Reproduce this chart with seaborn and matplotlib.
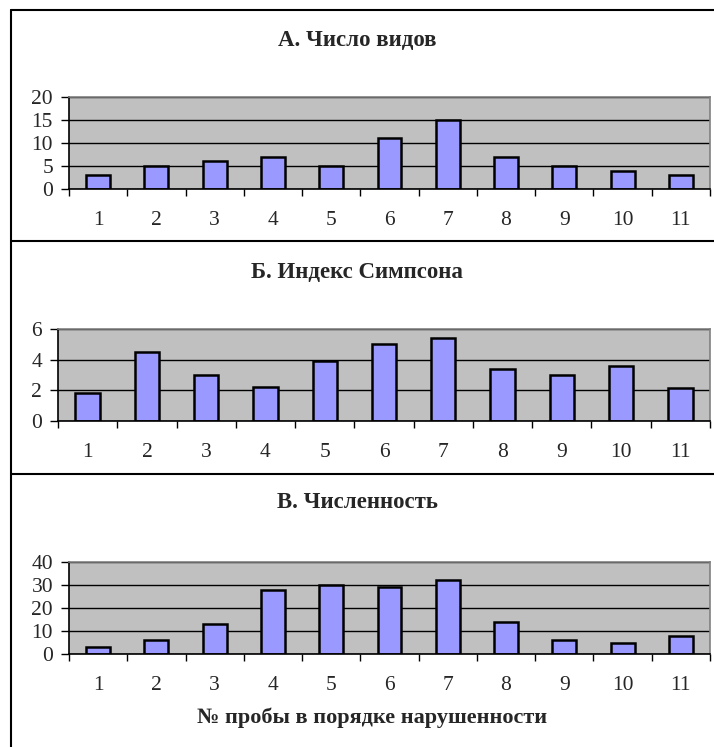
import numpy as np
import pandas as pd
import seaborn as sns
import matplotlib.pyplot as plt
from matplotlib.lines import Line2D
from matplotlib.ticker import FixedLocator

# номера проб и три показателя
samples = [str(i) for i in range(1, 12)]
species_count = [3, 5, 6, 7, 5, 11, 15, 7, 5, 4, 3]
simpson_index = [1.8, 4.5, 3.0, 2.2, 3.9, 5.05, 5.4, 3.4, 3.0, 3.6, 2.15]
abundance = [3, 6, 13, 28, 30, 29, 32, 14, 6, 5, 8]

titles = ["А. Число видов", "Б. Индекс Симпсона", "В. Численность"]
xlabel = "№ пробы в порядке нарушенности"

sns.set_style("white")
plt.rcParams['font.family'] = ['Liberation Serif', 'DejaVu Serif']

W, H = 714, 747
fig = plt.figure(figsize=(W / 100, H / 100), dpi=100)

def px_axes(x0, x1, y0, y1):
    return fig.add_axes([x0 / W, 1 - y1 / H, (x1 - x0) / W, (y1 - y0) / H])

panels = [
    (species_count, [0, 5, 10, 15, 20], 20, (69, 710, 97, 189), 40),
    (simpson_index, [0, 2, 4, 6], 6, (58, 710, 329, 421), 272),
    (abundance, [0, 10, 20, 30, 40], 40, (69, 710, 562, 654), 503),
]

for i, (vals, yt, ymax, box, ty) in enumerate(panels):
    ax = px_axes(*box)
    df = pd.DataFrame({"sample": samples, "value": vals})
    sns.barplot(data=df, x="sample", y="value", ax=ax, color="#9999FF",
                saturation=1, width=0.41, edgecolor="black", linewidth=1.8)
    ax.set_facecolor("#C0C0C0")
    ax.set_xlim(-0.5, len(samples) - 0.5)
    ax.set_ylim(0, ymax)
    ax.set_yticks(yt)
    ax.set_yticklabels([str(v) for v in yt])
    ax.yaxis.grid(True, color="black", linewidth=1)
    ax.set_axisbelow(True)
    ax.set_xlabel("")
    ax.set_ylabel("")
    ax.xaxis.set_minor_locator(FixedLocator(np.arange(-0.5, len(samples), 1.0)))
    ax.tick_params(axis="x", which="major", length=0, pad=16, labelsize=15.5)
    ax.tick_params(axis="x", which="minor", length=5, width=1, color="black",
                   direction="out", bottom=True)
    ax.tick_params(axis="y", which="major", length=5.5, width=1, color="black",
                   direction="out", pad=6, labelsize=15.5, left=True)
    for side in ["left", "bottom"]:
        ax.spines[side].set_color("black")
        ax.spines[side].set_linewidth(1.2)
    for side in ["top", "right"]:
        ax.spines[side].set_color("#808080")
        ax.spines[side].set_linewidth(1.2)
    fig.text(357 / W, 1 - ty / H, titles[i], ha="center", va="center",
             fontsize=16.5, fontweight="bold")

fig.text(372 / W, 1 - 718 / H, xlabel, ha="center", va="center",
         fontsize=16, fontweight="bold")

# рамки панелей
def hline(y):
    fig.add_artist(Line2D([11 / W, 1], [1 - y / H, 1 - y / H], color="black", linewidth=1.5))

for y in [10, 241, 474]:
    hline(y)
fig.add_artist(Line2D([11 / W, 11 / W], [0, 1 - 10 / H], color="black", linewidth=1.5))

fig.savefig("out.png", dpi=100, facecolor="white")
